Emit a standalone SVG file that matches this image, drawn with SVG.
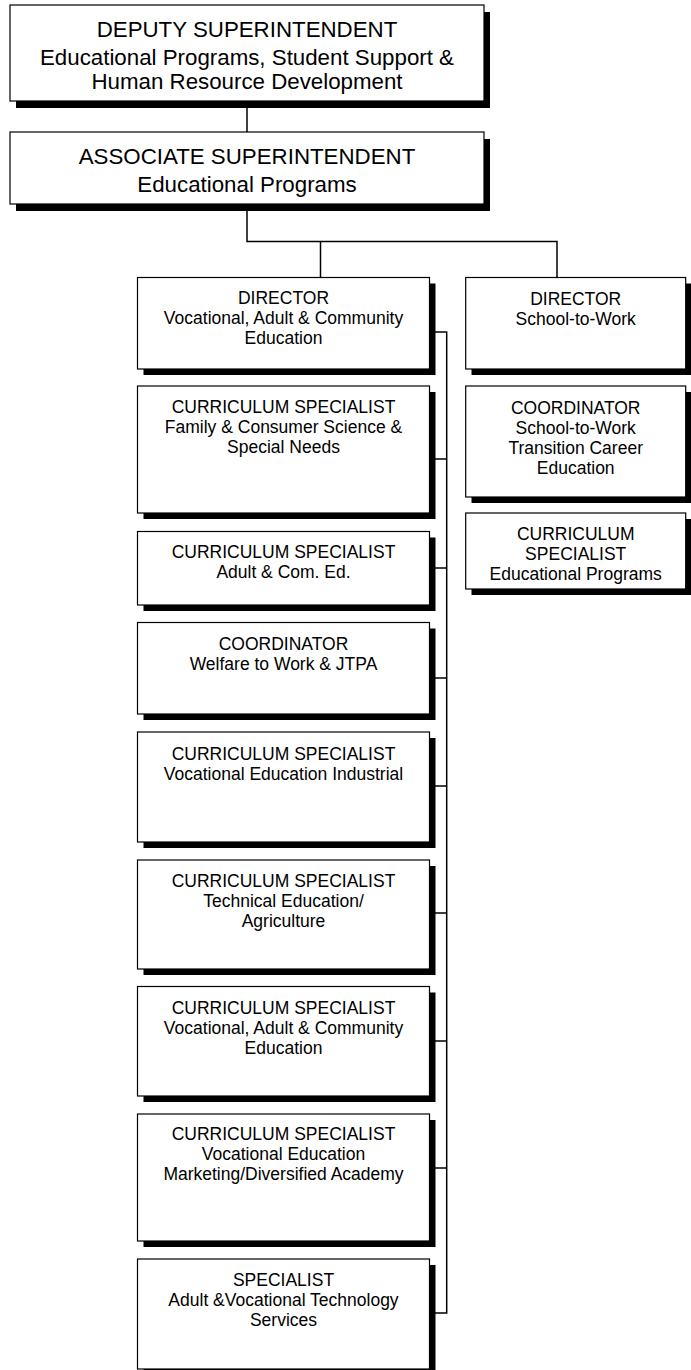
<svg xmlns="http://www.w3.org/2000/svg" width="691" height="1370" viewBox="0 0 691 1370">
<style>
.box{fill:#fff;stroke:#000;stroke-width:1.2}
.sh{fill:#000}
.t{font-family:"Liberation Sans",Arial,Helvetica,sans-serif;fill:#000;text-anchor:middle}
.big{font-size:22.3px}
.sm{font-size:17.5px}
.conn{fill:none;stroke:#000;stroke-width:1.5}
</style>
<rect width="691" height="1370" fill="#fff"/>
<g id="connectors">
<path class="conn" d="M247 101 V132"/>
<path class="conn" d="M247 204 V241.5 H557 V277.5"/>
<path class="conn" d="M320.5 241.5 V277.5"/>
<path class="conn" d="M429.5 332 H446.7 V1313 H429.5"/>
<path class="conn" d="M429.5 459 H446.7 M429.5 568 H446.7 M429.5 678 H446.7 M429.5 786 H446.7 M429.5 913 H446.7 M429.5 1041 H446.7 M429.5 1168 H446.7"/>
</g>
<g id="deputy">
<rect class="sh" x="16" y="12" width="474" height="96"/>
<rect class="box" x="10" y="5" width="474" height="96"/>
<text class="t big" x="247" y="37">DEPUTY SUPERINTENDENT</text>
<text class="t big" x="247" y="65">Educational Programs, Student Support &amp;</text>
<text class="t big" x="247" y="89">Human Resource Development</text>
</g>
<g id="associate">
<rect class="sh" x="16" y="139" width="474" height="72"/>
<rect class="box" x="10" y="132" width="474" height="72"/>
<text class="t big" x="247" y="163.5">ASSOCIATE SUPERINTENDENT</text>
<text class="t big" x="247" y="191.5">Educational Programs</text>
</g>
<g id="dir-vac">
<rect class="sh" x="143.5" y="283.5" width="292" height="91.5"/>
<rect class="box" x="137.5" y="277.5" width="292" height="91.5"/>
<text class="t sm" x="283.5" y="304">DIRECTOR</text>
<text class="t sm" x="283.5" y="324">Vocational, Adult &amp; Community</text>
<text class="t sm" x="283.5" y="344">Education</text>
</g>
<g id="cs-family">
<rect class="sh" x="143.5" y="392" width="292" height="127"/>
<rect class="box" x="137.5" y="386" width="292" height="127"/>
<text class="t sm" x="283.5" y="413">CURRICULUM SPECIALIST</text>
<text class="t sm" x="283.5" y="433">Family &amp; Consumer Science &amp;</text>
<text class="t sm" x="283.5" y="453">Special Needs</text>
</g>
<g id="cs-adult">
<rect class="sh" x="143.5" y="537.5" width="292" height="73.5"/>
<rect class="box" x="137.5" y="531.5" width="292" height="73.5"/>
<text class="t sm" x="283.5" y="558">CURRICULUM SPECIALIST</text>
<text class="t sm" x="283.5" y="578">Adult &amp; Com. Ed.</text>
</g>
<g id="coord-welfare">
<rect class="sh" x="143.5" y="628.5" width="292" height="91.5"/>
<rect class="box" x="137.5" y="622.5" width="292" height="91.5"/>
<text class="t sm" x="283.5" y="650">COORDINATOR</text>
<text class="t sm" x="283.5" y="670">Welfare to Work &amp; JTPA</text>
</g>
<g id="cs-industrial">
<rect class="sh" x="143.5" y="738" width="292" height="110"/>
<rect class="box" x="137.5" y="732" width="292" height="110"/>
<text class="t sm" x="283.5" y="760">CURRICULUM SPECIALIST</text>
<text class="t sm" x="283.5" y="780">Vocational Education Industrial</text>
</g>
<g id="cs-technical">
<rect class="sh" x="143.5" y="866" width="292" height="109"/>
<rect class="box" x="137.5" y="860" width="292" height="109"/>
<text class="t sm" x="283.5" y="887">CURRICULUM SPECIALIST</text>
<text class="t sm" x="283.5" y="907">Technical Education/</text>
<text class="t sm" x="283.5" y="927">Agriculture</text>
</g>
<g id="cs-vac">
<rect class="sh" x="143.5" y="992.5" width="292" height="109.5"/>
<rect class="box" x="137.5" y="986.5" width="292" height="109.5"/>
<text class="t sm" x="283.5" y="1014">CURRICULUM SPECIALIST</text>
<text class="t sm" x="283.5" y="1034">Vocational, Adult &amp; Community</text>
<text class="t sm" x="283.5" y="1054">Education</text>
</g>
<g id="cs-marketing">
<rect class="sh" x="143.5" y="1120" width="292" height="127"/>
<rect class="box" x="137.5" y="1114" width="292" height="127"/>
<text class="t sm" x="283.5" y="1140">CURRICULUM SPECIALIST</text>
<text class="t sm" x="283.5" y="1160">Vocational Education</text>
<text class="t sm" x="283.5" y="1180">Marketing/Diversified Academy</text>
</g>
<g id="specialist-tech">
<rect class="sh" x="143.5" y="1265" width="292" height="110"/>
<rect class="box" x="137.5" y="1259" width="292" height="110"/>
<text class="t sm" x="283.5" y="1286">SPECIALIST</text>
<text class="t sm" x="283.5" y="1306">Adult &amp;Vocational Technology</text>
<text class="t sm" x="283.5" y="1326">Services</text>
</g>
<g id="dir-stw">
<rect class="sh" x="471.5" y="283.5" width="220" height="91.5"/>
<rect class="box" x="465.7" y="277.5" width="220" height="91.5"/>
<text class="t sm" x="575.7" y="305">DIRECTOR</text>
<text class="t sm" x="575.7" y="325">School-to-Work</text>
</g>
<g id="coord-stw">
<rect class="sh" x="471.5" y="392" width="220" height="111"/>
<rect class="box" x="465.7" y="386" width="220" height="111"/>
<text class="t sm" x="575.7" y="413.5">COORDINATOR</text>
<text class="t sm" x="575.7" y="434">School-to-Work</text>
<text class="t sm" x="575.7" y="454">Transition Career</text>
<text class="t sm" x="575.7" y="474">Education</text>
</g>
<g id="cs-edprog">
<rect class="sh" x="471.5" y="519" width="220" height="76"/>
<rect class="box" x="465.7" y="513" width="220" height="76"/>
<text class="t sm" x="575.7" y="540">CURRICULUM</text>
<text class="t sm" x="575.7" y="560">SPECIALIST</text>
<text class="t sm" x="575.7" y="580">Educational Programs</text>
</g>
</svg>
